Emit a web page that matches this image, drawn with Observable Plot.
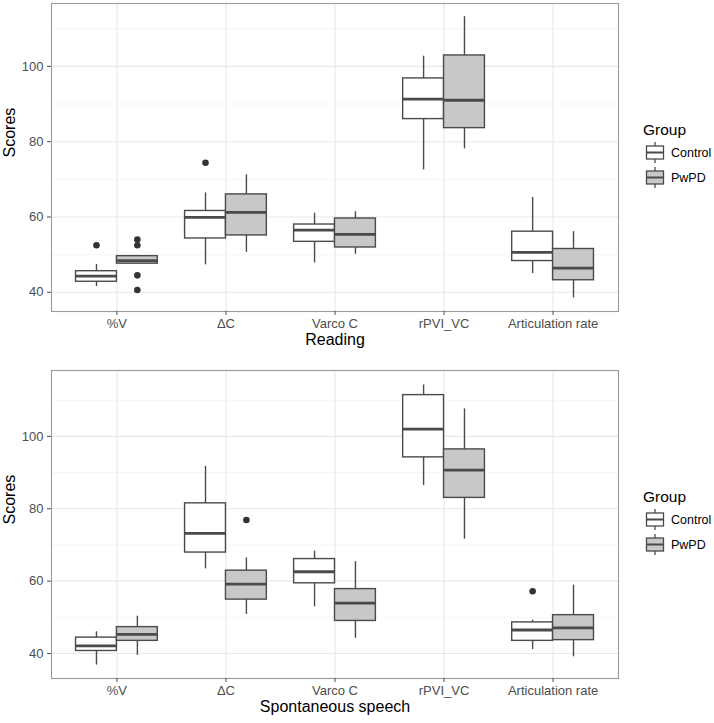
<!DOCTYPE html>
<html><head><meta charset="utf-8">
<script src="https://cdn.jsdelivr.net/npm/d3@7"></script>
<script src="https://cdn.jsdelivr.net/npm/@observablehq/plot@0.6"></script>
<style>
body{margin:0;background:#fff;font-family:"Liberation Sans",Arial,Helvetica,sans-serif}
.panel{position:relative;width:714px}
.legend{position:absolute;left:643px;color:#000}
.legend .title{font-size:15.5px;line-height:20px;margin-bottom:0}
.legend .item{display:flex;align-items:center;height:25px;font-size:12.5px}
.legend svg{margin-left:2px;margin-right:6px}
</style></head>
<body>
<div id="top" class="panel"></div>
<div id="bot" class="panel"></div>
<script>
const categories = ["%V", "ΔC", "Varco C", "rPVI_VC", "Articulation rate"];
const groups = ["Control", "PwPD"];
const groupFills = ["#ffffff", "#c8c8c8"];
const majorTicks = [40, 60, 80, 100];
const minorTicks = [50, 70, 90, 110];

// Reading
const readControlLow = [41.5, 47.3, 47.8, 72.5, 45.0];
const readControlQ1  = [42.8, 54.3, 53.4, 86.0, 48.3];
const readControlMed = [44.3, 59.9, 56.5, 91.3, 50.6];
const readControlQ3  = [45.6, 61.6, 58.0, 96.8, 56.1];
const readControlHigh= [47.4, 66.4, 61.0, 102.7, 65.2];
const readPwpdLow    = [47.6, 50.6, 50.1, 78.1, 38.5];
const readPwpdQ1     = [47.6, 55.1, 51.9, 83.6, 43.2];
const readPwpdMed    = [48.4, 61.2, 55.4, 91.0, 46.4];
const readPwpdQ3     = [49.6, 66.0, 59.6, 102.9, 51.5];
const readPwpdHigh   = [49.6, 71.2, 61.4, 113.2, 56.1];
const readOutliers = [
  ["%V", "Control", 52.5],
  ["%V", "PwPD", 54.0], ["%V", "PwPD", 52.5], ["%V", "PwPD", 44.5], ["%V", "PwPD", 40.6],
  ["ΔC", "Control", 74.4]
];

// Spontaneous speech
const spontControlLow = [36.8, 63.4, 52.9, 86.4, 41.1];
const spontControlQ1  = [40.7, 67.9, 59.4, 94.2, 43.5];
const spontControlMed = [42.1, 73.2, 62.6, 102.0, 46.5];
const spontControlQ3  = [44.4, 81.5, 66.1, 111.4, 48.6];
const spontControlHigh= [46.0, 91.7, 68.3, 114.2, 49.2];
const spontPwpdLow    = [39.5, 50.8, 44.2, 71.6, 39.1];
const spontPwpdQ1     = [43.5, 54.9, 49.0, 83.0, 43.7];
const spontPwpdMed    = [45.3, 59.2, 53.9, 90.7, 47.1];
const spontPwpdQ3     = [47.3, 62.9, 57.8, 96.4, 50.6];
const spontPwpdHigh   = [50.3, 66.4, 65.4, 107.6, 58.9];
const spontOutliers = [
  ["ΔC", "PwPD", 76.9],
  ["Articulation rate", "Control", 57.2]
];

const halfWidth = 0.1875;
const xPos = (cat, grp) => categories.indexOf(cat) + 1 + (grp === groups[0] ? -halfWidth : halfWidth);

function buildRows(ctrl, pwpd) {
  const rows = [];
  [ctrl, pwpd].forEach((s, gi) => {
    categories.forEach((c, i) => {
      rows.push({cat: c, group: groups[gi], x: xPos(c, groups[gi]),
        lo: s[0][i], q1: s[1][i], med: s[2][i], q3: s[3][i], hi: s[4][i]});
    });
  });
  return rows;
}

const ink = "#4a4a4a";

function panel(rows, outliers, xTitle, opts) {
  const outs = outliers.map(([c, g, v]) => ({cat: c, group: g, x: xPos(c, g), value: v}));
  return Plot.plot({
    width: 714,
    height: opts.height,
    marginLeft: 51,
    marginRight: 96,
    marginTop: opts.marginTop,
    marginBottom: opts.marginBottom,
    style: {fontFamily: "'Liberation Sans', Arial, Helvetica, sans-serif", fontSize: "12px", background: "white", overflow: "visible"},
    x: {domain: [0.4, 5.6], axis: null},
    y: {domain: opts.yDomain, axis: null},
    color: {domain: groups, range: groupFills},
    marks: [
      Plot.ruleY(minorTicks.filter(v => v > opts.yDomain[0] && v < opts.yDomain[1]), {stroke: "#f3f3f3", strokeWidth: 0.8}),
      Plot.ruleY(majorTicks, {stroke: "#e8e8e8", strokeWidth: 1.1}),
      Plot.ruleX(categories.map((c, i) => i + 1), {stroke: "#e8e8e8", strokeWidth: 1.1}),
      Plot.ruleX(rows, {x: "x", y1: "lo", y2: "hi", stroke: ink, strokeWidth: 1.4}),
      Plot.rect(rows, {x1: d => d.x - halfWidth, x2: d => d.x + halfWidth, y1: "q1", y2: "q3", fill: "group", stroke: ink, strokeWidth: 1.4}),
      Plot.ruleY(rows, {y: "med", x1: d => d.x - halfWidth, x2: d => d.x + halfWidth, stroke: ink, strokeWidth: 2.8}),
      Plot.dot(outs, {x: "x", y: "value", r: 3.3, fill: "#333", stroke: "none"}),
      Plot.frame({stroke: "#9a9a9a", strokeWidth: 1.1}),
      Plot.axisY(majorTicks, {anchor: "left", tickSize: 4, tickPadding: 4, color: "#4d4d4d", fontSize: 13, label: null}),
      Plot.axisX(categories.map((c, i) => i + 1), {anchor: "bottom", tickSize: 4, tickPadding: 3, color: "#4d4d4d", fontSize: 13, tickFormat: i => categories[i - 1], label: null}),
      Plot.text(["Scores"], {frameAnchor: "left", text: d => d, rotate: -90, dx: -42, fontSize: 16, fill: "#000"}),
      Plot.text([xTitle], {frameAnchor: "bottom", text: d => d, dy: 33, fontSize: 16, fill: "#000"})
    ]
  });
}

function legend(top) {
  const div = document.createElement("div");
  div.className = "legend";
  div.style.top = top + "px";
  let html = `<div class="title">Group</div>`;
  groups.forEach((g, i) => {
    html += `<div class="item"><svg width="20" height="25" viewBox="0 0 20 25">
      <line x1="10" x2="10" y1="2" y2="23" stroke="${ink}" stroke-width="1.3"/>
      <rect x="1.5" y="6" width="17" height="13" fill="${groupFills[i]}" stroke="${ink}" stroke-width="1.3"/>
      <line x1="1.5" x2="18.5" y1="12.5" y2="12.5" stroke="${ink}" stroke-width="2"/>
    </svg><span>${g}</span></div>`;
  });
  div.innerHTML = html;
  return div;
}

const topEl = document.getElementById("top");
topEl.appendChild(panel(
  buildRows([readControlLow, readControlQ1, readControlMed, readControlQ3, readControlHigh],
            [readPwpdLow, readPwpdQ1, readPwpdMed, readPwpdQ3, readPwpdHigh]),
  readOutliers, "Reading",
  {height: 360, marginTop: 3, marginBottom: 49, yDomain: [34.9, 116.7]}));
topEl.appendChild(legend(120));

const botEl = document.getElementById("bot");
botEl.appendChild(panel(
  buildRows([spontControlLow, spontControlQ1, spontControlMed, spontControlQ3, spontControlHigh],
            [spontPwpdLow, spontPwpdQ1, spontPwpdMed, spontPwpdQ3, spontPwpdHigh]),
  spontOutliers, "Spontaneous speech",
  {height: 363, marginTop: 10, marginBottom: 45, yDomain: [33.1, 118.2]}));
botEl.appendChild(legend(127));
</script>
</body></html>
